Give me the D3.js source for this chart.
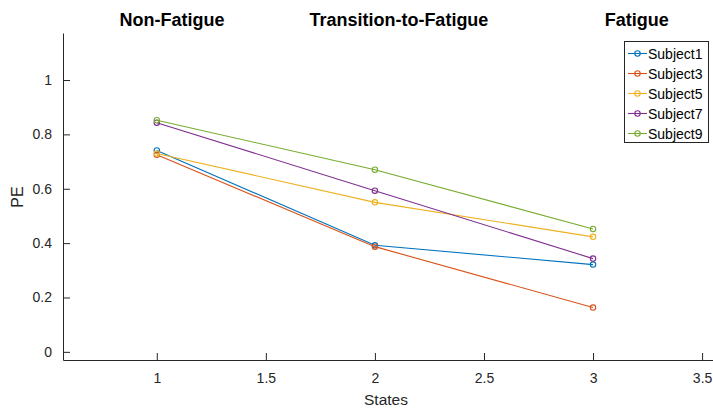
<!DOCTYPE html>
<html>
<head>
<meta charset="utf-8">
<script src="https://cdn.jsdelivr.net/npm/d3@7"></script>
<style>
  html, body { margin: 0; padding: 0; background: #fff; }
  svg { display: block; font-family: "Liberation Sans", Arial, Helvetica, sans-serif; }
</style>
</head>
<body>
<svg id="chart" width="713" height="412"></svg>
<script>
// States along the x axis
const states = [1, 2, 3];
// Permutation entropy per subject, one value per state
const subjects = ["Subject1", "Subject3", "Subject5", "Subject7", "Subject9"];
const subject1 = [0.741, 0.392, 0.321];
const subject3 = [0.725, 0.387, 0.163];
const subject5 = [0.730, 0.550, 0.423];
const subject7 = [0.843, 0.593, 0.343];
const subject9 = [0.852, 0.670, 0.452];
const seriesValues = [subject1, subject3, subject5, subject7, subject9];
const colors = ["#0072BD", "#D95319", "#EDB120", "#7E2F8E", "#77AC30"];
// Tick labels
const xTicks = [1, 1.5, 2, 2.5, 3, 3.5];
const yTicks = [0, 0.2, 0.4, 0.6, 0.8, 1];
// Phase annotations above the plot
const phaseLabels = ["Non-Fatigue", "Transition-to-Fatigue", "Fatigue"];
const phaseX = [1.07, 2.11, 3.2];
const phaseY = 1.2;

const svg = d3.select("#chart");
const axisColor = "#262626";

const x = d3.scaleLinear().domain([0.57, 3.55]).range([63, 713]);
const y = d3.scaleLinear().domain([-0.03, 1.173]).range([360, 33]);

// Y axis (ticks point inward)
const yAxis = svg.append("g")
  .attr("transform", `translate(${x.range()[0]},0)`)
  .call(d3.axisLeft(y).tickValues(yTicks).tickSize(-7).tickSizeOuter(0).tickPadding(11)
    .tickFormat(d => d3.format("~g")(d)));
yAxis.select(".domain").attr("stroke", axisColor);
yAxis.selectAll(".tick line").attr("stroke", axisColor);
yAxis.selectAll(".tick text").attr("fill", axisColor).style("font-size", "14px")
  .style("font-family", "Liberation Sans, Arial, sans-serif");

// X axis (ticks point inward)
const xAxis = svg.append("g")
  .attr("transform", `translate(0,${y.range()[0]})`)
  .call(d3.axisBottom(x).tickValues(xTicks).tickSize(-7).tickSizeOuter(0).tickPadding(13)
    .tickFormat(d => d3.format("~g")(d)));
xAxis.select(".domain").attr("stroke", axisColor);
xAxis.selectAll(".tick line").attr("stroke", axisColor);
xAxis.selectAll(".tick text").attr("fill", axisColor).style("font-size", "14px")
  .style("font-family", "Liberation Sans, Arial, sans-serif");

// Axis labels
svg.append("text")
  .attr("x", 386).attr("y", 405)
  .attr("text-anchor", "middle")
  .attr("fill", axisColor)
  .style("font-size", "15.5px")
  .text("States");

svg.append("text")
  .attr("transform", "translate(23,197) rotate(-90)")
  .attr("text-anchor", "middle")
  .attr("fill", axisColor)
  .style("font-size", "16px")
  .text("PE");

// Phase annotations
svg.append("g").selectAll("text")
  .data(phaseLabels)
  .join("text")
  .attr("x", (d, i) => x(phaseX[i]))
  .attr("y", y(phaseY))
  .attr("text-anchor", "middle")
  .attr("fill", "#000")
  .style("font-size", "18px")
  .style("font-weight", "bold")
  .text(d => d);

// Series lines with open circle markers
const line = d3.line().x((d, i) => x(states[i])).y(d => y(d));
const plot = svg.append("g");
seriesValues.forEach((vals, s) => {
  const g = plot.append("g");
  g.append("path")
    .datum(vals)
    .attr("d", line)
    .attr("fill", "none")
    .attr("stroke", colors[s])
    .attr("stroke-width", 1.1);
  g.selectAll("circle")
    .data(vals)
    .join("circle")
    .attr("cx", (d, i) => x(states[i]))
    .attr("cy", d => y(d))
    .attr("r", 2.7)
    .attr("fill", "none")
    .attr("stroke", colors[s])
    .attr("stroke-width", 1.1);
});

// Legend
const legend = svg.append("g");
legend.append("rect")
  .attr("x", 624.5).attr("y", 41.5)
  .attr("width", 84).attr("height", 101)
  .attr("fill", "#fff")
  .attr("stroke", axisColor)
  .attr("stroke-width", 1);
subjects.forEach((name, i) => {
  const cy = 53.5 + i * 20;
  legend.append("line")
    .attr("x1", 628).attr("x2", 647)
    .attr("y1", cy).attr("y2", cy)
    .attr("stroke", colors[i]).attr("stroke-width", 1.1);
  legend.append("circle")
    .attr("cx", 637.5).attr("cy", cy).attr("r", 2.7)
    .attr("fill", "none").attr("stroke", colors[i]).attr("stroke-width", 1.1);
  legend.append("text")
    .attr("x", 648).attr("y", cy + 5)
    .attr("fill", "#000")
    .style("font-size", "14px")
    .text(name);
});
</script>
</body>
</html>
